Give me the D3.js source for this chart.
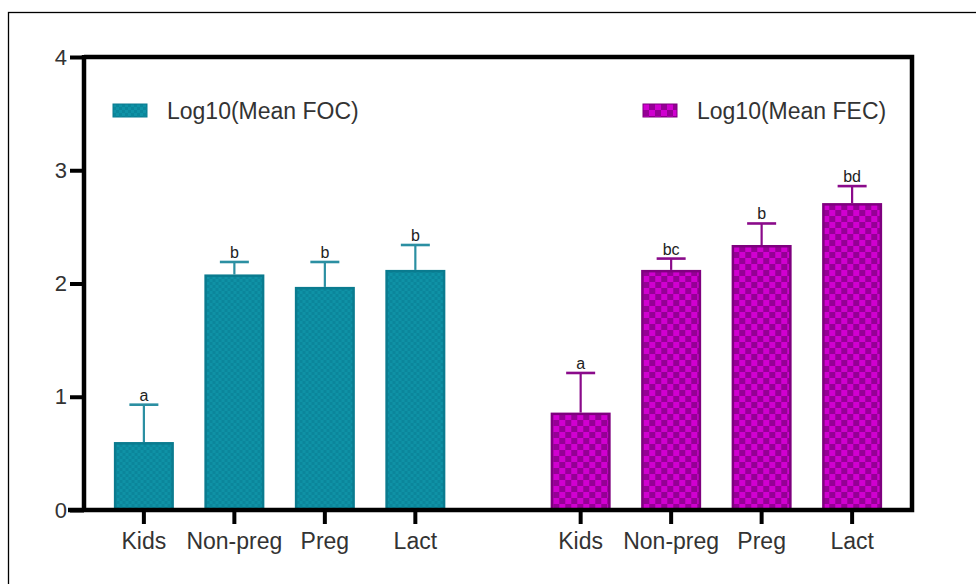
<!DOCTYPE html>
<html>
<head>
<meta charset="utf-8">
<script src="https://cdn.jsdelivr.net/npm/d3@7"></script>
<style>
  html, body { margin: 0; padding: 0; background: #fff; }
  svg { display: block; font-family: "Liberation Sans", Arial, sans-serif; }
</style>
</head>
<body>
<svg id="chart" width="976" height="584"></svg>
<script>
// ---- data ----
const groups = ["Log10(Mean FOC)", "Log10(Mean FEC)"];
const categories = ["Kids", "Non-preg", "Preg", "Lact"];
const focMeans = [0.60, 2.08, 1.97, 2.12];
const focErrTop = [0.93, 2.19, 2.19, 2.34];
const focLetters = ["a", "b", "b", "b"];
const fecMeans = [0.86, 2.12, 2.34, 2.71];
const fecErrTop = [1.21, 2.22, 2.53, 2.86];
const fecLetters = ["a", "bc", "b", "bd"];
const yTicks = [0, 1, 2, 3, 4];

const seriesData = [
  { group: groups[0], means: focMeans, err: focErrTop, letters: focLetters,
    pattern: "url(#patTeal)", stroke: "#0a7b8f", errColor: "#2b8fa2" },
  { group: groups[1], means: fecMeans, err: fecErrTop, letters: fecLetters,
    pattern: "url(#patMag)", stroke: "#7f007f", errColor: "#8a0a8a" }
];

const svg = d3.select("#chart");
const defs = svg.append("defs");

// teal fine checker pattern
const pt = defs.append("pattern").attr("id", "patTeal").attr("patternUnits", "userSpaceOnUse")
  .attr("width", 6).attr("height", 6);
pt.append("rect").attr("width", 6).attr("height", 6).attr("fill", "#0b869b");
pt.append("rect").attr("width", 3).attr("height", 3).attr("fill", "#0f92a6");
pt.append("rect").attr("x", 3).attr("y", 3).attr("width", 3).attr("height", 3).attr("fill", "#0f92a6");

// magenta checker pattern
const pm = defs.append("pattern").attr("id", "patMag").attr("patternUnits", "userSpaceOnUse")
  .attr("width", 12).attr("height", 12);
pm.append("rect").attr("width", 12).attr("height", 12).attr("fill", "#950095");
pm.append("rect").attr("width", 6).attr("height", 6).attr("fill", "#d000d0");
pm.append("rect").attr("x", 6).attr("y", 6).attr("width", 6).attr("height", 6).attr("fill", "#d000d0");

// outer frame
svg.append("rect").attr("x", 8.5).attr("y", 12.5).attr("width", 990).attr("height", 600)
  .attr("fill", "none").attr("stroke", "#000").attr("stroke-width", 1.3);

const pLeft = 84, pRight = 912, pTop = 57, pBottom = 510;

const y = d3.scaleLinear().domain([0, 4]).range([pBottom, pTop]);
const xGroup = d3.scaleBand().domain(groups).range([pLeft, pRight])
  .paddingInner(0.1707).paddingOuter(0.0332);
const xCat = d3.scaleBand().domain(categories).range([0, xGroup.bandwidth()])
  .paddingInner(0.337).paddingOuter(0.17);

// bars
seriesData.forEach(s => {
  const g = svg.append("g").attr("transform", `translate(${xGroup(s.group)},0)`);
  const rows = categories.map((c, i) => ({ c, v: s.means[i], e: s.err[i], l: s.letters[i] }));
  g.selectAll("line.err").data(rows).enter().append("line")
    .attr("x1", d => xCat(d.c) + xCat.bandwidth() / 2)
    .attr("x2", d => xCat(d.c) + xCat.bandwidth() / 2)
    .attr("y1", d => y(d.v)).attr("y2", d => y(d.e))
    .attr("stroke", s.errColor).attr("stroke-width", 2.2);
  g.selectAll("line.cap").data(rows).enter().append("line")
    .attr("x1", d => xCat(d.c) + xCat.bandwidth() / 2 - 14.5)
    .attr("x2", d => xCat(d.c) + xCat.bandwidth() / 2 + 14.5)
    .attr("y1", d => y(d.e)).attr("y2", d => y(d.e))
    .attr("stroke", s.errColor).attr("stroke-width", 2.6);
  g.selectAll("rect.bar").data(rows).enter().append("rect")
    .attr("x", d => xCat(d.c) + 1.25)
    .attr("width", xCat.bandwidth() - 2.5)
    .attr("y", d => y(d.v) + 1.25)
    .attr("height", d => y(0) - y(d.v) - 1.25)
    .attr("fill", s.pattern).attr("stroke", s.stroke).attr("stroke-width", 2.5);
  g.selectAll("text.sig").data(rows).enter().append("text")
    .attr("x", d => xCat(d.c) + xCat.bandwidth() / 2)
    .attr("y", d => y(d.e) - 4)
    .attr("text-anchor", "middle").attr("font-size", 16).attr("fill", "#222")
    .text(d => d.l);
  const ax = d3.axisBottom(xCat).tickSize(14).tickSizeOuter(0);
  const axg = svg.append("g").attr("transform", `translate(${xGroup(s.group)},${pBottom})`).call(ax);
  axg.select(".domain").remove();
  axg.selectAll(".tick line").attr("stroke", "#000").attr("stroke-width", 4);
  axg.selectAll(".tick text").attr("font-size", 23).attr("fill", "#333")
    .attr("font-family", "Liberation Sans, Arial, sans-serif").attr("dy", "0.95em");
});

// y axis
const yAx = d3.axisLeft(y).tickValues(yTicks).tickFormat(d3.format("d")).tickSize(14).tickSizeOuter(0);
const yg = svg.append("g").attr("transform", `translate(${pLeft},0)`).call(yAx);
yg.select(".domain").remove();
yg.selectAll(".tick line").attr("stroke", "#000").attr("stroke-width", 4);
yg.selectAll(".tick text").attr("font-size", 22).attr("fill", "#333")
  .attr("font-family", "Liberation Sans, Arial, sans-serif").attr("x", -17);

// plot frame (axes)
svg.append("path")
  .attr("d", `M${pLeft},${pTop} L${pRight},${pTop} L${pRight},${pBottom} L${pLeft - 16},${pBottom} M${pLeft},${pTop - 2} L${pLeft},${pBottom + 2}`)
  .attr("fill", "none").attr("stroke", "#000").attr("stroke-width", 4.5);

// legend
const legend = [
  { label: groups[0], fill: "url(#patTeal)", stroke: "#0a7b8f", x: 113 },
  { label: groups[1], fill: "url(#patMag)", stroke: "#7f007f", x: 643 }
];
const lg = svg.selectAll("g.leg").data(legend).enter().append("g").attr("class", "leg")
  .attr("transform", d => `translate(${d.x},104)`);
lg.append("rect").attr("width", 34).attr("height", 13).attr("fill", d => d.fill)
  .attr("stroke", d => d.stroke).attr("stroke-width", 1);
lg.append("text").attr("x", 54).attr("y", 15).attr("font-size", 23).attr("fill", "#333")
  .text(d => d.label);
</script>
</body>
</html>
